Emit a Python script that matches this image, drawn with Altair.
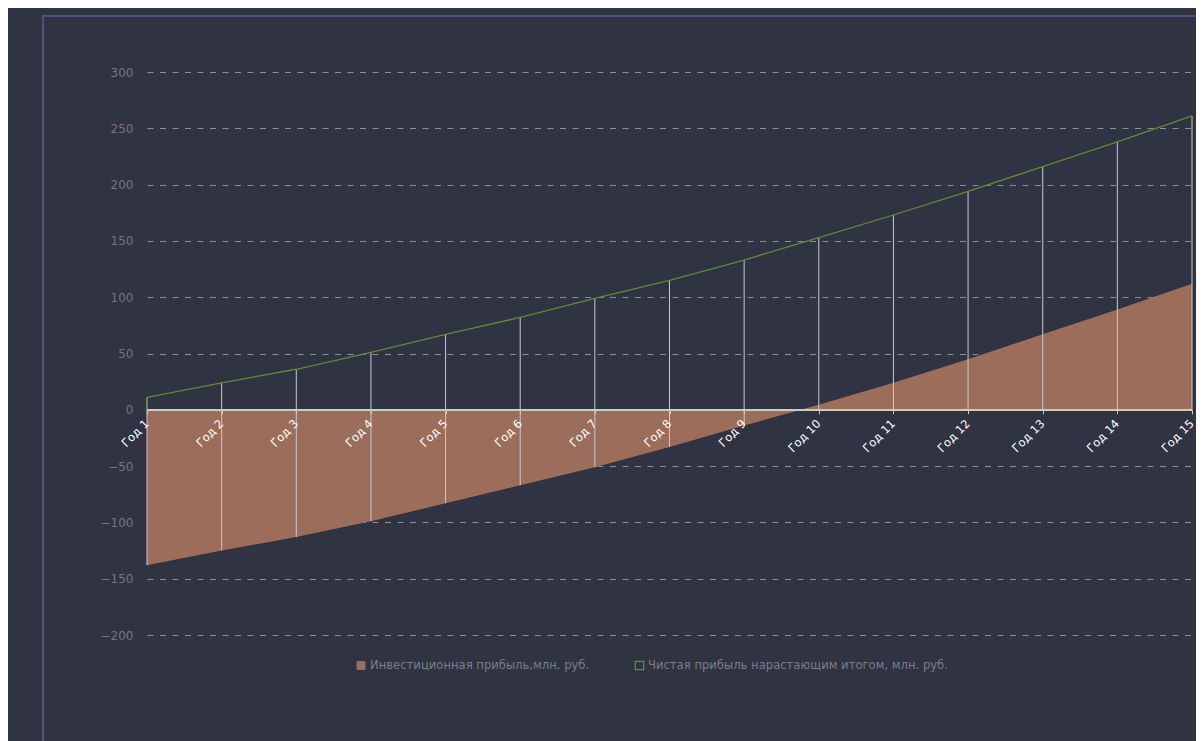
import altair as alt
import pandas as pd

years = [f"Год {i}" for i in range(1, 16)]
invest = [-138, -125, -113, -99, -83, -67, -51, -33, -14, 4.5, 24, 45, 67, 89, 112]
net = [11, 24, 36, 51, 67, 82, 99, 115, 133, 153, 173, 194, 216, 238, 261]
series_names = ["Инвестиционная прибыль,млн. руб.", "Чистая прибыль нарастающим итогом, млн. руб."]
y_ticks = [-200, -150, -100, -50, 0, 50, 100, 150, 200, 250, 300]

W, H = 1045, 563
PAD_R = 4
YMIN, YMAX = -200, 300
BG = "#2f3342"
BROWN = "#9b6d5a"
GREEN = "#5e8c3a"

df = pd.DataFrame({"year": years, "invest": invest, "net": net})
df["low"] = df["invest"].clip(upper=0)

xenc = alt.X("year:N", sort=years, scale=alt.Scale(type="point", padding=0), title=None,
             axis=alt.Axis(labelAngle=-45, labelAlign="right", labelBaseline="middle",
                           labelColor="#ffffff", labelFontSize=11.5, labelFont="DejaVu Sans",
                           labelOverlap=False, domainColor="#c9cfb9", domainWidth=1.5, tickColor="#c9cfb9",
                           tickSize=4, offset=-H * (0 - YMIN) / (YMAX - YMIN), labelPadding=8, grid=False,
                           zindex=1))
yscale = alt.Scale(domain=[YMIN, YMAX], nice=False, zero=False)

base = alt.Chart(df)

area = base.mark_area(color=BROWN, opacity=1).encode(
    x=xenc,
    y=alt.Y("invest:Q", scale=yscale, title=None,
            axis=alt.Axis(values=y_ticks, labelColor="#74767f", labelFontSize=12, labelFont="DejaVu Sans",
                          domain=False, ticks=False, labelPadding=14, grid=True, gridColor="#8d8f96",
                          gridDash=[6, 6.5], gridWidth=1, zindex=0)),
    y2=alt.datum(0),
)

rules = base.mark_rule(color="#c8cacf", strokeWidth=1).encode(
    x=alt.X("year:N", sort=years),
    y=alt.Y("net:Q"),
    y2="low:Q",
)

first_rule = alt.Chart(df.iloc[[0]]).mark_rule(color=GREEN, strokeWidth=1.3).encode(
    x=alt.X("year:N", sort=years),
    y=alt.Y("net:Q"),
    y2=alt.datum(0),
)

line = base.mark_line(color=GREEN, strokeWidth=1.3).encode(
    x=alt.X("year:N", sort=years),
    y=alt.Y("net:Q"),
)

zero = alt.Chart(pd.DataFrame({"z": [0]})).mark_rule(color="#c9cfb9", strokeWidth=1.5).encode(y="z:Q")

frame = alt.Chart(pd.DataFrame({"a": [0]})).mark_rect(fill=None, stroke="#505279", strokeWidth=2).encode(
    x=alt.value(-104), x2=alt.value(W + 200), y=alt.value(-56), y2=alt.value(H + 300)
)

leg_df = pd.DataFrame({"name": series_names})
LEG_FS = 11.6
leg1_sq = alt.Chart(leg_df.iloc[[0]]).mark_square(size=80, filled=True, color=BROWN, opacity=1).encode(
    x=alt.value(214), y=alt.value(593.5))
leg1_tx = alt.Chart(leg_df.iloc[[0]]).mark_text(align="left", baseline="middle", fontSize=LEG_FS,
                                                font="DejaVu Sans", color="#7b7d86").encode(
    x=alt.value(223), y=alt.value(593.5), text="name:N")
leg2_sq = alt.Chart(leg_df.iloc[[1]]).mark_square(size=70, filled=False, color=GREEN, strokeWidth=1.3,
                                                  opacity=1).encode(
    x=alt.value(492.5), y=alt.value(593.5))
leg2_tx = alt.Chart(leg_df.iloc[[1]]).mark_text(align="left", baseline="middle", fontSize=LEG_FS,
                                                font="DejaVu Sans", color="#7b7d86").encode(
    x=alt.value(501), y=alt.value(593.5), text="name:N")

chart = alt.layer(frame, area, rules, zero, first_rule, line, leg1_sq, leg1_tx, leg2_sq, leg2_tx).properties(
    width=W, height=H,
    autosize=alt.AutoSizeParams(type="none"),
    padding={"left": 139, "top": 64, "right": PAD_R, "bottom": 106},
    background=BG,
).configure_view(stroke=None)

chart.save("out.html", embed_options={"renderer": "svg", "actions": False})
